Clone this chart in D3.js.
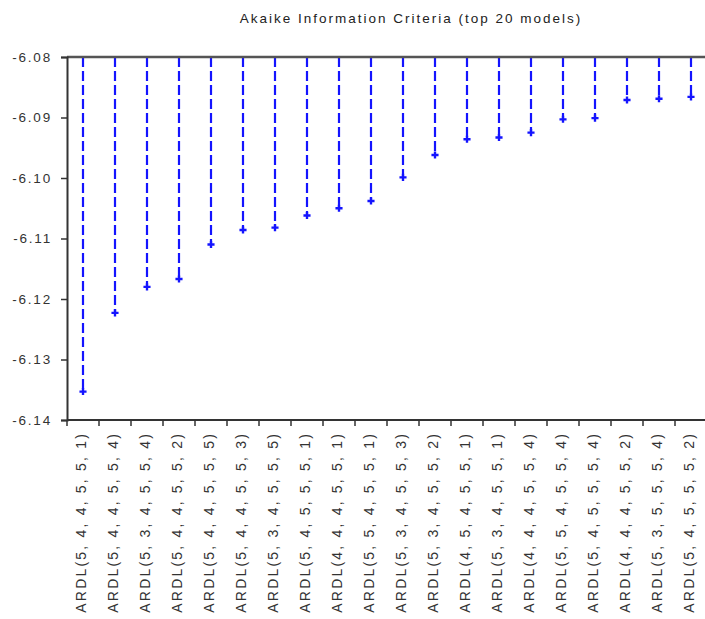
<!DOCTYPE html>
<html>
<head>
<meta charset="utf-8">
<script src="https://cdn.jsdelivr.net/npm/d3@7"></script>
<style>
  body { margin: 0; background: #fff; }
  text { font-family: "Liberation Sans", Arial, sans-serif; fill: #222; }
</style>
</head>
<body>
<div id="chart"></div>
<script>
// model labels, in the order shown on the x axis
const models = [
  "ARDL(5, 4, 4, 5, 5, 1)", "ARDL(5, 4, 4, 5, 5, 4)", "ARDL(5, 3, 4, 5, 5, 4)",
  "ARDL(5, 4, 4, 5, 5, 2)", "ARDL(5, 4, 4, 5, 5, 5)", "ARDL(5, 4, 4, 5, 5, 3)",
  "ARDL(5, 3, 4, 5, 5, 5)", "ARDL(5, 4, 5, 5, 5, 1)", "ARDL(4, 4, 4, 5, 5, 1)",
  "ARDL(5, 5, 4, 5, 5, 1)", "ARDL(5, 3, 4, 5, 5, 3)", "ARDL(5, 3, 4, 5, 5, 2)",
  "ARDL(4, 5, 4, 5, 5, 1)", "ARDL(5, 3, 4, 5, 5, 1)", "ARDL(4, 4, 4, 5, 5, 4)",
  "ARDL(5, 5, 4, 5, 5, 4)", "ARDL(5, 4, 5, 5, 5, 4)", "ARDL(4, 4, 4, 5, 5, 2)",
  "ARDL(5, 3, 5, 5, 5, 4)", "ARDL(5, 4, 5, 5, 5, 2)"
];
// AIC values
const aic = [
  -6.1353, -6.1223, -6.1180, -6.1167, -6.1110, -6.1086, -6.1082, -6.1062, -6.1050, -6.1038,
  -6.0999, -6.0962, -6.0936, -6.0933, -6.0925, -6.0903, -6.0901, -6.0871, -6.0869, -6.0866
];
const yTicks = [-6.08, -6.09, -6.10, -6.11, -6.12, -6.13, -6.14];
const title = "Akaike Information Criteria (top 20 models)";

const width = 705, height = 619;
const m = {left: 67, right: 707, top: 57, bottom: 420};

const svg = d3.select("#chart").append("svg")
    .attr("width", width)
    .attr("height", height);

const x = d3.scaleBand().domain(models).range([m.left, m.right]).padding(0);
const y = d3.scaleLinear().domain([-6.14, -6.08]).range([m.bottom, m.top]);

// title
svg.append("text")
    .attr("x", 411)
    .attr("y", 23)
    .attr("text-anchor", "middle")
    .style("font-size", "13.5px")
    .style("letter-spacing", "2px")
    .text(title);

// stems
svg.selectAll(".stem")
    .data(aic)
    .enter()
    .append("line")
    .attr("class", "stem")
    .attr("x1", (d, i) => x(models[i]) + x.bandwidth() / 2)
    .attr("x2", (d, i) => x(models[i]) + x.bandwidth() / 2)
    .attr("y1", y(-6.08))
    .attr("y2", d => y(d))
    .style("stroke", "#1414ff")
    .style("stroke-width", 2.2)
    .style("stroke-dasharray", "10,4");

// markers
svg.selectAll(".mark")
    .data(aic)
    .enter()
    .append("path")
    .attr("class", "mark")
    .attr("d", d3.symbol().type(d3.symbolCross).size(28))
    .attr("transform", (d, i) => `translate(${x(models[i]) + x.bandwidth() / 2},${y(d)})`)
    .style("fill", "#1414ff");

// frame top line
svg.append("line")
    .attr("x1", m.left).attr("x2", width)
    .attr("y1", m.top).attr("y2", m.top)
    .style("stroke", "#555")
    .style("stroke-width", 2.5);

// y axis
const yAxis = svg.append("g")
    .attr("transform", `translate(${m.left},0)`)
    .call(d3.axisLeft(y).tickValues(yTicks).tickSize(6).tickFormat(d => d.toFixed(2)));
yAxis.select(".domain").style("stroke", "#333").style("stroke-width", 2);
yAxis.selectAll(".tick line").style("stroke", "#333").style("stroke-width", 1.5);
yAxis.selectAll("text")
    .attr("x", -15)
    .style("font-size", "13.5px")
    .style("letter-spacing", "1.8px")
    .style("font-family", "'Liberation Sans', Arial, sans-serif")
    .style("fill", "#333");

// x axis line and boundary ticks
svg.append("line")
    .attr("x1", m.left).attr("x2", width)
    .attr("y1", m.bottom).attr("y2", m.bottom)
    .style("stroke", "#333")
    .style("stroke-width", 2);

const edges = models.map(d => x(d)).concat([m.right]);
svg.selectAll(".xtick")
    .data(edges)
    .enter()
    .append("line")
    .attr("class", "xtick")
    .attr("x1", d => d).attr("x2", d => d)
    .attr("y1", m.bottom).attr("y2", m.bottom + 6)
    .style("stroke", "#333")
    .style("stroke-width", 1.5);

// rotated category labels
svg.selectAll(".xlab")
    .data(models)
    .enter()
    .append("text")
    .attr("class", "xlab")
    .attr("transform", d => `translate(${x(d) + x.bandwidth() / 2 - 2},432) rotate(-90)`)
    .attr("dy", "0.35em")
    .attr("text-anchor", "end")
    .style("font-size", "14px")
    .style("letter-spacing", "2.2px")
    .style("fill", "#333")
    .text(d => d);
</script>
</body>
</html>
